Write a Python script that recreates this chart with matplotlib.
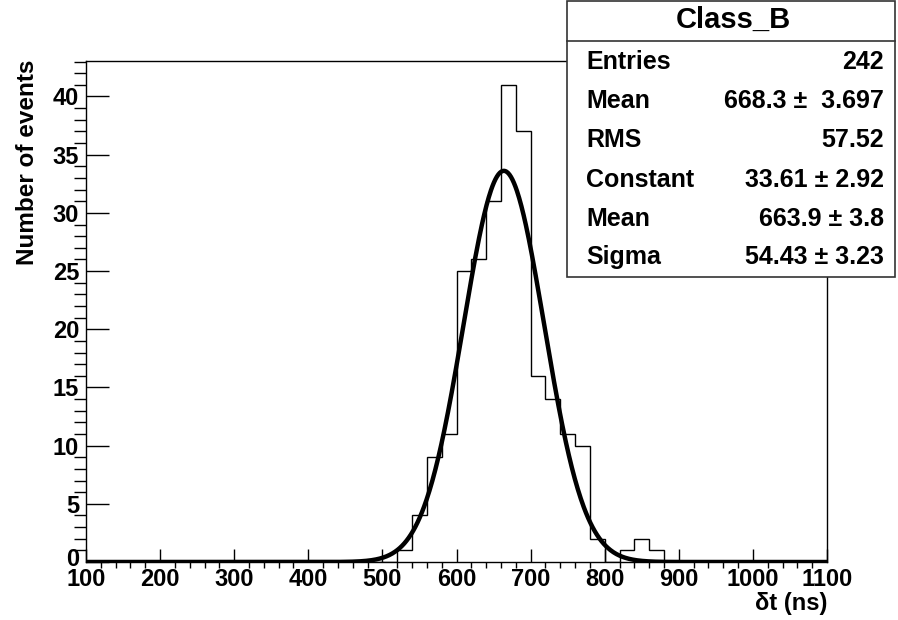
import numpy as np
import matplotlib
matplotlib.use("Agg")
import matplotlib.pyplot as plt
from matplotlib.patches import Rectangle
from matplotlib.transforms import ScaledTranslation

plt.rcParams['font.family'] = ['Liberation Sans', 'DejaVu Sans']
plt.rcParams['font.weight'] = 'bold'

# ===== DATA =====
bin_lo = 100
bin_hi = 1100
bin_width = 20
# counts per 20 ns bin, 100..1100 (50 bins)
counts = [0] * 20 + [0, 1, 4, 9, 11, 25, 26, 31, 41, 37,
                     16, 14, 11, 10, 2, 0, 1, 2, 1] + [0] * 11

# gaussian fit parameters (from stats box)
fit_const = 33.61
fit_mean = 663.9
fit_sigma = 54.43

hist_name = "Class_B"
stat_labels = ["Entries", "Mean", "RMS", "Constant", "Mean", "Sigma"]
stat_values = ["242", "668.3 \u00b1  3.697", "57.52", "33.61 \u00b1 2.92",
               "663.9 \u00b1 3.8", "54.43 \u00b1 3.23"]

x_ticks = [100, 200, 300, 400, 500, 600, 700, 800, 900, 1000, 1100]
y_ticks = [0, 5, 10, 15, 20, 25, 30, 35, 40]

# ===== PLOT =====
fig = plt.figure(figsize=(8.98, 6.2), dpi=100)
ax = fig.add_axes([86 / 898, 58 / 620, 741 / 898, 501 / 620])

edges = np.arange(bin_lo, bin_hi + 1, bin_width)
ax.stairs(counts, edges, color='black', lw=1.0, baseline=0)

xf = np.linspace(bin_lo, bin_hi, 1000)
yf = fit_const * np.exp(-0.5 * ((xf - fit_mean) / fit_sigma) ** 2)
ax.plot(xf, yf, color='black', lw=3.2, solid_capstyle='butt')

ax.set_xlim(bin_lo, bin_hi)
ax.set_ylim(0, max(counts) * 1.05)

ax.set_xticks(x_ticks)
ax.set_xticks(np.arange(bin_lo, bin_hi + 1, 20), minor=True)
ax.set_yticks(y_ticks)
ax.set_yticks(np.arange(0, 44, 1), minor=True)

ax.tick_params(direction='in', top=False, right=False, labelsize=17)
ax.tick_params(axis='y', which='major', length=16.5, width=1, pad=5)
ax.tick_params(axis='y', which='minor', length=8.5, width=1)
ax.tick_params(axis='x', which='major', length=9.5, width=1, pad=4)
ax.tick_params(axis='x', which='minor', length=4.5, width=1)
for lbl in ax.get_xticklabels() + ax.get_yticklabels():
    lbl.set_fontweight('bold')
for s in ax.spines.values():
    s.set_linewidth(1.0)

# ROOT lifts the "0" label a little above the axis
zero_lbl = ax.yaxis.get_major_ticks()[0].label1
zero_lbl.set_transform(zero_lbl.get_transform()
                       + ScaledTranslation(0, 5 / 100, fig.dpi_scale_trans))

ax.set_xlabel("\u03b4t (ns)", fontsize=17, fontweight='bold', loc='right')
ax.xaxis.set_label_coords(1.0, -0.060)
ax.set_ylabel("Number of events", fontsize=17.5, fontweight='bold', loc='top')
ax.yaxis.set_label_coords(-0.063, 1.003)

# ===== STATS BOX =====
bx0, bx1 = 567 / 898, 895 / 898
by0, by1 = 1 - 277 / 620, 1 - 1 / 620
fig.patches.append(Rectangle((bx0, by0), bx1 - bx0, by1 - by0,
                             transform=fig.transFigure, facecolor='white',
                             edgecolor='#333333', lw=1.2, zorder=5))
fig.lines.append(plt.Line2D([bx0, bx1], [1 - 41 / 620] * 2,
                            transform=fig.transFigure, color='#333333',
                            lw=1.2, zorder=6))
fig.text(733 / 898, 1 - 28 / 620, hist_name, ha='center', va='baseline',
         fontsize=21, fontweight='bold', zorder=7)
row_y = [69, 108, 147, 187, 226, 264]
for lab, val, ry in zip(stat_labels, stat_values, row_y):
    fig.text(586 / 898, 1 - ry / 620, lab, ha='left', va='baseline',
             fontsize=18, fontweight='bold', zorder=7)
    fig.text(884 / 898, 1 - ry / 620, val, ha='right', va='baseline',
             fontsize=18, fontweight='bold', zorder=7)

fig.savefig("out.png", dpi=100)
